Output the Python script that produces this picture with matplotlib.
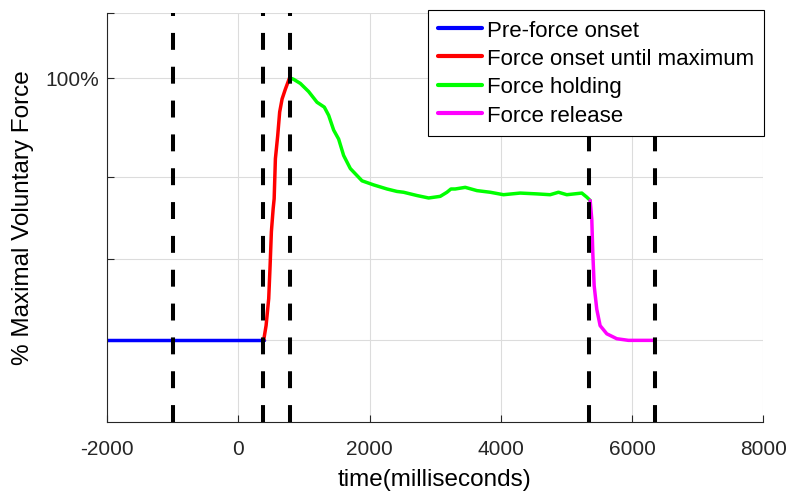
import matplotlib
matplotlib.use('Agg')
import matplotlib.pyplot as plt

plt.rcParams['font.family'] = ['Liberation Sans', 'DejaVu Sans']
plt.rcParams['axes.unicode_minus'] = False

# force trace, split into the four phases (time in ms, force in axis units)
pre_t = [-2000, -1500, -1000, -500, 0, 385]
pre_f = [1.0, 1.0, 1.0, 1.0, 1.0, 1.0]

onset_t = [385, 422, 462, 483, 503, 530, 545, 564, 599, 629, 666, 716, 781]
onset_f = [1.0, 1.18, 1.51, 1.91, 2.33, 2.61, 2.73, 3.22, 3.50, 3.79, 3.95, 4.07, 4.21]

hold_t = [781, 842, 944, 1071, 1198, 1310, 1376, 1452, 1528, 1604, 1706, 1884,
          2061, 2265, 2417, 2518, 2722, 2900, 3077, 3179, 3240, 3305, 3458, 3636,
          3839, 4041, 4296, 4550, 4752, 4879, 5006, 5235, 5311, 5362]
hold_f = [4.21, 4.19, 4.14, 4.04, 3.91, 3.85, 3.75, 3.57, 3.46, 3.26, 3.10, 2.95,
          2.90, 2.85, 2.82, 2.81, 2.77, 2.74, 2.76, 2.81, 2.85, 2.85, 2.87, 2.83,
          2.81, 2.78, 2.80, 2.79, 2.78, 2.81, 2.78, 2.80, 2.75, 2.71]

release_t = [5362, 5387, 5402, 5423, 5463, 5514, 5616, 5768, 5946, 6123, 6340]
release_f = [2.71, 2.48, 2.08, 1.67, 1.38, 1.18, 1.08, 1.02, 1.0, 1.0, 1.0]

# phase boundaries
events = [-1000, 380, 780, 5350, 6350]

labels = ['Pre-force onset', 'Force onset until maximum', 'Force holding', 'Force release']
colors = ['#0000ff', '#ff0000', '#00ff00', '#ff00ff']

xticks = [-2000, 0, 2000, 4000, 6000, 8000]
yticks = [1, 2, 3, 4.21, 5]
yticklabels = ['', '', '', '100%', '']

fig = plt.figure(figsize=(8, 5.02), dpi=100)
ax = fig.add_axes([0.134, 0.157, 0.82, 0.815])

for xv in events:
    ax.plot([xv, xv], [0, 5], color='black', lw=2.9, dashes=(4.2, 4.2), zorder=3)

segs = [(pre_t, pre_f), (onset_t, onset_f), (hold_t, hold_f), (release_t, release_f)]
for (t, f), c, lab in zip(segs, colors, labels):
    ax.plot(t, f, color=c, lw=2.5, label=lab, zorder=2, solid_capstyle='round')

ax.set_xlim(-2000, 8000)
ax.set_ylim(0, 5)
ax.set_xticks(xticks)
ax.set_yticks(yticks)
ax.set_yticklabels(yticklabels)
ax.grid(True, color='#dcdcdc', lw=0.8)
ax.set_axisbelow(True)
for s in ['top', 'right']:
    ax.spines[s].set_visible(False)
for s in ['left', 'bottom']:
    ax.spines[s].set_color('#262626')
    ax.spines[s].set_linewidth(0.8)
ax.tick_params(direction='in', length=5, colors='#262626', labelsize=15, labelcolor='#262626')
ax.tick_params(axis='x', pad=12)
ax.tick_params(axis='y', pad=6)

ax.set_xlabel('time(milliseconds)', fontsize=17.5, color='black')
ax.set_ylabel('% Maximal Voluntary Force', fontsize=17.5, color='black')
ax.xaxis.set_label_coords(435 / 800, 1 - 480 / 502, transform=fig.transFigure)
ax.yaxis.set_label_coords(23 / 800, 1 - 218 / 502, transform=fig.transFigure)
ax.xaxis.label.set_va('center')
ax.yaxis.label.set_va('center')

leg = ax.legend(loc='upper right', bbox_to_anchor=(764 / 800, 1 - 10.7 / 502),
                bbox_transform=fig.transFigure, fontsize=16, fancybox=False,
                framealpha=1, edgecolor='black', borderaxespad=0,
                handlelength=2.0, handletextpad=0.2, labelspacing=0.33,
                borderpad=0.45)
leg.get_frame().set_linewidth(0.8)
for h in leg.get_lines():
    h.set_linewidth(3)

fig.savefig('out.png', dpi=100)
